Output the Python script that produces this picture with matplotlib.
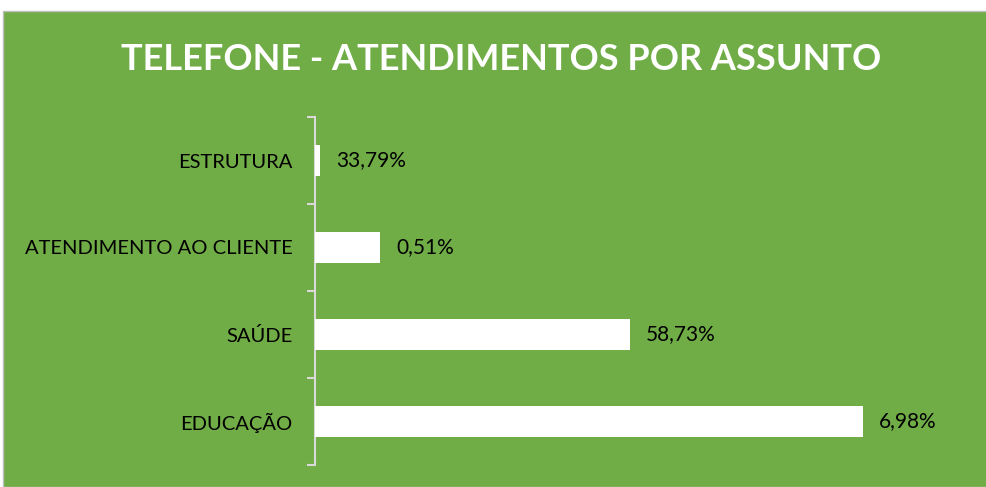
import matplotlib
matplotlib.use("Agg")
import matplotlib.pyplot as plt
from matplotlib.patches import Rectangle
import numpy as np

title = "TELEFONE - ATENDIMENTOS POR ASSUNTO"
categories = ["ESTRUTURA", "ATENDIMENTO AO CLIENTE", "SAÚDE", "EDUCAÇÃO"]
values = [0.51, 6.98, 33.79, 58.73]
labels = ["33,79%", "0,51%", "58,73%", "6,98%"]

GREEN = "#70AD47"
W, H = 987, 487
fig = plt.figure(figsize=(W / 100, H / 100), dpi=100)
fig.patch.set_facecolor("white")

bg = fig.add_axes([0, 0, 1, 1], zorder=-1)
bg.set_xlim(0, W)
bg.set_ylim(H, 0)
bg.axis("off")
bg.add_patch(Rectangle((3, 11), W - 3, H - 11, facecolor=GREEN, edgecolor="#BFBFBF", linewidth=1.0))

left, right, top, bottom = 315, 960, 117, 465
ax = fig.add_axes([left / W, (H - bottom) / H, (right - left) / W, (bottom - top) / H], zorder=1)
ax.set_facecolor("none")

y = np.arange(len(categories))
ax.barh(y, values, height=0.36, color="white", zorder=3)
ax.set_xlim(0, (right - left) / (548 / 58.73))
ax.set_ylim(len(categories) - 0.5, -0.5)

for yi, v, lab in zip(y, values, labels):
    ax.annotate(lab, (v, yi), xytext=(16, 0), textcoords="offset pixels",
                va="center", ha="left", fontsize=15, color="black", family="Lato")

for s in ["top", "right", "bottom"]:
    ax.spines[s].set_visible(False)
ax.spines["left"].set_color("#D9D9D9")
ax.spines["left"].set_linewidth(1.5)
ax.set_xticks([])
ax.set_yticks(np.arange(-0.5, len(categories)), labels=[""] * (len(categories) + 1))
ax.tick_params(axis="y", which="major", length=6, width=1.5, color="#D9D9D9", direction="out")
ax.set_yticks(y, labels=categories, minor=True)
ax.tick_params(axis="y", which="minor", length=0, pad=16, labelsize=14.5, labelcolor="black")
for t in ax.get_yticklabels(minor=True):
    t.set_family("Lato")

fig.text((122 + 880) / 2 / W, 1 - 60 / H, title, ha="center", va="center",
         fontsize=26, fontweight="bold", color="white", family="Lato")

fig.savefig("out.png", dpi=100, facecolor="white")
